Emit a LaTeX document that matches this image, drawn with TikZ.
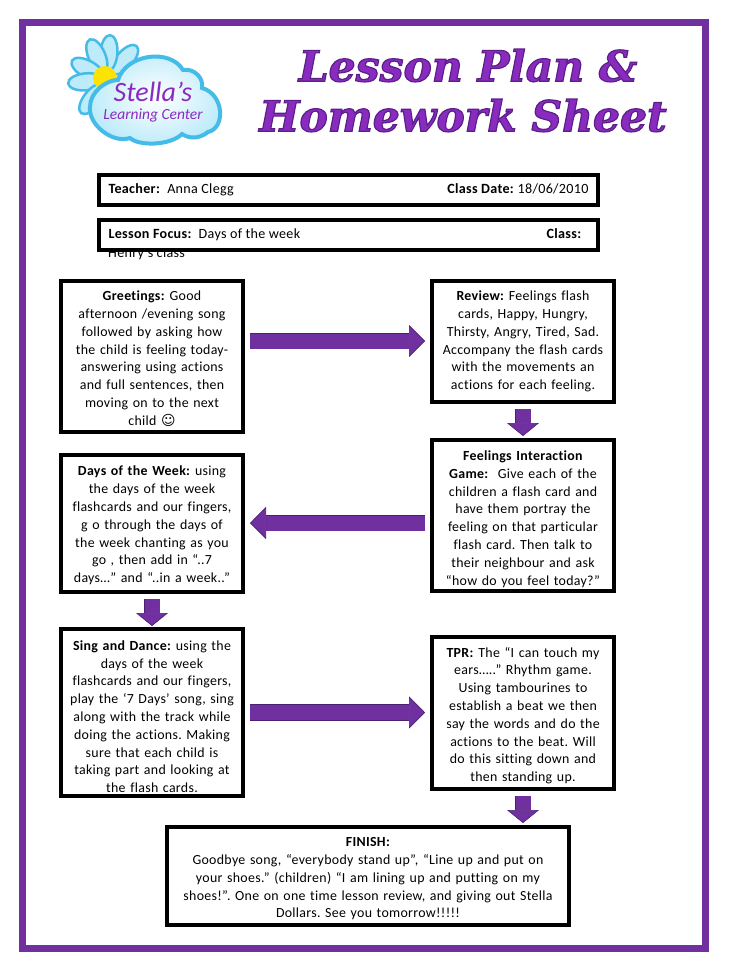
\documentclass[tikz,border=0pt]{standalone}
\usepackage{fontspec}
\setmainfont{Carlito}[LetterSpace=2.2,Ligatures=NoCommon]
\newfontfamily\titlefont{DejaVu Serif}
\newfontfamily\logofont{Carlito}
\newfontfamily\symfont{DejaVu Sans}
\usetikzlibrary{arrows.meta,positioning}
\definecolor{accent}{HTML}{7030A0}
\definecolor{accentdark}{HTML}{4A2070}
\definecolor{titlefill}{HTML}{8A2BC0}
\definecolor{skyline}{HTML}{45BCE8}
\definecolor{skyfill}{HTML}{BDEBFA}
\newcommand{\titlestroke}{\special{pdf:code 2 Tr 1.2 w 0.36 0.12 0.54 RG}}
\frenchspacing

\begin{document}
\begin{tikzpicture}[x=1pt,y=-1pt,
 box/.style={draw=black,line width=4pt,fill=white,align=center,inner sep=0pt,text width=178pt,minimum width=182pt,font=\fontsize{13.9}{17.8}\selectfont},
 drophead/.style={execute at begin node={\rule{0pt}{#1}}},
 infobox/.style={draw=black,line width=4pt,fill=white,inner sep=0pt,minimum width=499pt,minimum height=30pt,font=\fontsize{14.1}{17.8}\selectfont},
 arr/.style={-{Triangle[length=16pt,width=32pt,fill=accent,line width=.6pt]},line width=.6pt,draw=accentdark,double=accent,double distance=15pt},
 drop/.style={-{Triangle[length=13pt,width=32pt,fill=accent,line width=.6pt]},line width=.6pt,draw=accentdark,double=accent,double distance=15pt},
 petal/.style={draw=skyline,fill=skyfill,line width=2.5pt},
 headline/.style={text=titlefill,inner sep=0pt,font=\titlefont\bfseries\itshape\fontsize{42.5}{42.5}\selectfont}]
\useasboundingbox (0,0) rectangle (728,971);
\fill[white] (0,0) rectangle (728,971);
\draw[accent,line width=7pt] (22.5,22.5) rectangle (705.5,948.5);

% logo
\foreach \a/\r in {49/27,86/27,113/26,151/22,185/21,232/24}
 \draw[petal,shift={(107,80)},rotate=\a] (\r,0) ellipse (18 and 8.5);
\fill[yellow!85!orange] (105,78) circle (12);
\shadedraw[inner color=white,outer color=skyfill,draw=skyline,line width=4pt] (90,107)
 .. controls (90,92) and (106,80) .. (118,80)
 .. controls (126,54) and (170,48) .. (183,70)
 .. controls (194,68) and (204,78) .. (202,88)
 .. controls (224,94) and (226,128) .. (208,132)
 .. controls (198,140) and (188,138) .. (182,134)
 .. controls (170,146) and (138,146) .. (130,138)
 .. controls (112,144) and (88,124) .. (90,107);
\node[text=titlefill,inner sep=0pt,font=\logofont\itshape\fontsize{28}{28}\selectfont] (stella) at (153,92) {Stella’s};
\node[text=titlefill,inner sep=0pt,font=\logofont\itshape\fontsize{15.5}{15.5}\selectfont] (center) at (153,115) {Learning Center};

% title
\node[headline] (title) at (468,65.5) {\titlestroke Lesson Plan \&};
\node[headline] (sheet) at (463,115.5) {\titlestroke Homework Sheet};

% info boxes
\node[font=\fontsize{14.1}{17.8}\selectfont,anchor=base west,inner sep=0pt] (henry) at (108,257) {Henry’s class};
\node[infobox] (teacher) at (348.5,189.5) {\parbox{480pt}{\textbf{Teacher:}\ \ Anna Clegg\hfill\textbf{Class Date:} 18/06/2010}};
\node[infobox,below=11pt of teacher] (focus) {\parbox{480pt}{\textbf{Lesson Focus:}\ \ Days of the week\hfill\textbf{Class:}\hspace*{7pt}}};

% left column
\node[box,drophead=14pt,minimum height=151pt] (greet) at (152,356.5) {\textbf{Greetings:} Good\\afternoon /evening song\\followed by asking how\\the child is feeling today-\\answering using actions\\and full sentences, then\\moving on to the next\\child {\symfont ☺}};
\node[box,drophead=14pt,minimum height=137pt,below=19pt of greet] (days) {\textbf{Days of the Week:} using\\the days of the week\\flashcards and our fingers,\\g o through the days of\\the week chanting as you\\go , then add in “..7\\days…” and “..in a week..”};
\node[box,drophead=18pt,minimum height=167pt,below=33pt of days] (sing) {\textbf{Sing and Dance:} using the\\days of the week\\flashcards and our fingers,\\play the ‘7 Days’ song, sing\\along with the track while\\doing the actions. Making\\sure that each child is\\taking part and looking at\\the flash cards.};

% right column
\node[box,minimum height=121pt,right=185pt of greet.north east,anchor=north west] (review) {\textbf{Review:} Feelings flash\\cards, Happy, Hungry,\\Thirsty, Angry, Tired, Sad.\\Accompany the flash cards\\with the movements an\\actions for each feeling.};
\node[box,drophead=17pt,minimum height=151pt,below=34pt of review] (game) {\textbf{Feelings Interaction}\\\textbf{Game:}\ \ Give each of the\\children a flash card and\\have them portray the\\feeling on that particular\\flash card. Then talk to\\their neighbour and ask\\“how do you feel today?”};
\node[box,drophead=15pt,minimum height=152pt,below=42pt of game] (tpr) {\textbf{TPR:} The “I can touch my\\ears…..” Rhythm game.\\Using tambourines to\\establish a beat we then\\say the words and do the\\actions to the beat. Will\\do this sitting down and\\then standing up.};
\node[box,drophead=15pt,text width=400pt,minimum width=402pt,minimum height=98pt] (finish) at (368,876) {\textbf{FINISH:}\\Goodbye song, “everybody stand up”, “Line up and put on\\your shoes.” (children) “I am lining up and putting on my\\shoes!”. One on one time lesson review, and giving out Stella\\Dollars. See you tomorrow!!!!!};

% arrows
\draw[arr] ([xshift=5pt,yshift=15.5pt]greet.east) -- ([xshift=-5pt,yshift=15.5pt]greet.east -| review.west);
\draw[arr] ([xshift=-5pt,yshift=-7.5pt]game.west) -- ([xshift=5pt,yshift=-7.5pt]game.west -| days.east);
\draw[arr] ([xshift=5pt]sing.east) -- ([xshift=-5pt]sing.east -| tpr.west);
\draw[drop] ([yshift=-5pt]review.south) -- ([yshift=2pt]game.north);
\draw[drop] ([yshift=-5pt]days.south) -- ([yshift=1pt]sing.north);
\draw[drop] ([yshift=-5pt]tpr.south) -- ([yshift=2pt]tpr.south |- finish.north);
\end{tikzpicture}
\end{document}
